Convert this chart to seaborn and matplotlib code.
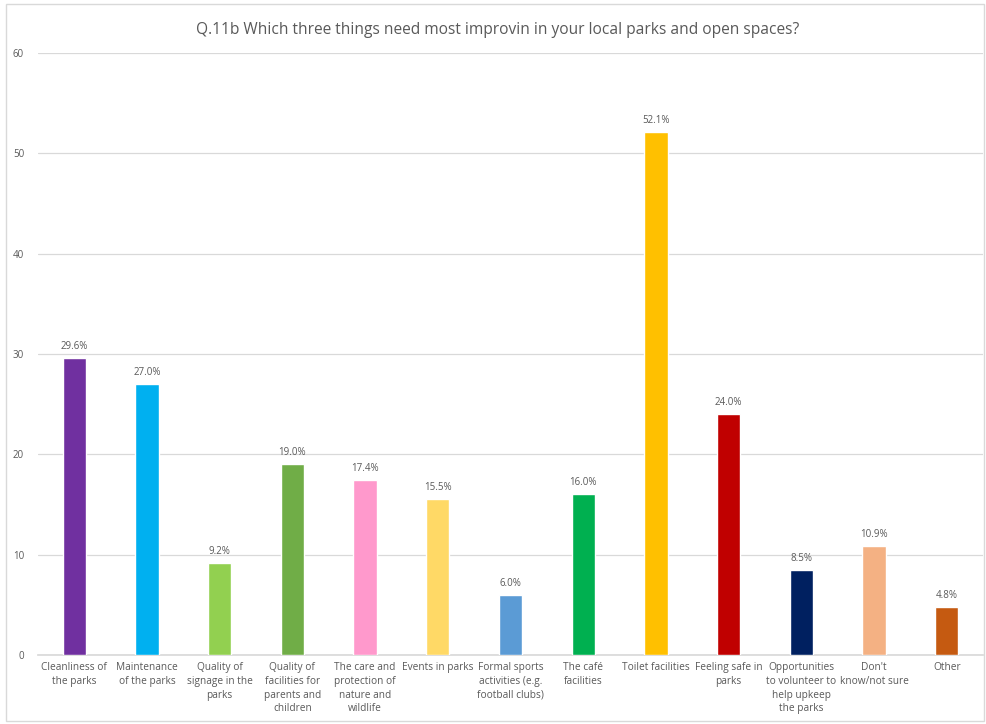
import pandas as pd
import matplotlib.pyplot as plt
import seaborn as sns
from matplotlib.patches import Rectangle

sns.set_theme(style="white")
plt.rcParams['font.family'] = ['Open Sans', 'DejaVu Sans']

# Dados
categories = [
    "Cleanliness of\nthe parks",
    "Maintenance\nof the parks",
    "Quality of\nsignage in the\nparks",
    "Quality of\nfacilities for\nparents and\nchildren",
    "The care and\nprotection of\nnature and\nwildlife",
    "Events in parks",
    "Formal sports\nactivities (e.g.\nfootball clubs)",
    "The café\nfacilities",
    "Toilet facilities",
    "Feeling safe in\nparks",
    "Opportunities\nto volunteer to\nhelp upkeep\nthe parks",
    "Don't\nknow/not sure",
    "Other",
]
values = [29.6, 27.0, 9.2, 19.0, 17.4, 15.5, 6.0, 16.0, 52.1, 24.0, 8.5, 10.9, 4.8]
colors = ["#7030A0", "#00B0F0", "#92D050", "#70AD47", "#FF99CC", "#FFD966",
          "#5B9BD5", "#00B050", "#FFC000", "#C00000", "#002060", "#F4B183", "#C55A11"]

df = pd.DataFrame({"cat": categories, "val": values})

fig = plt.figure(figsize=(9.86, 7.24), dpi=100)
ax = fig.add_axes([0.0385, 0.0953, 0.9585, 0.8315])

sns.barplot(data=df, x="cat", y="val", hue="cat", palette=colors, saturation=1,
            legend=False, width=0.32, ax=ax, zorder=3)

txt = "#595959"
for i, v in enumerate(values):
    ax.text(i, v + 0.6, f"{v:.1f}%", ha="center", va="bottom", fontsize=7, color=txt)

ax.set_ylim(0, 60)
ax.set_xlim(-0.5, len(values) - 0.5)
ax.set_yticks(range(0, 61, 10))
ax.grid(axis="y", color="#D9D9D9", linewidth=0.9, zorder=0)
ax.set_xlabel("")
ax.set_ylabel("")
for s in ["top", "right", "left"]:
    ax.spines[s].set_visible(False)
ax.spines["bottom"].set_color("#D9D9D9")
ax.tick_params(axis="y", labelsize=7, colors=txt, length=0, pad=10)
ax.tick_params(axis="x", labelsize=7.3, colors=txt, length=0, pad=5)
for lab in ax.get_xticklabels():
    lab.set_linespacing(1.35)

fig.text(0.505, 0.958, "Q.11b Which three things need most improvin in your local parks and open spaces?",
         ha="center", va="center", fontsize=11.2, color=txt)

fig.patches.append(Rectangle((0.006, 0.004), 0.992, 0.99, transform=fig.transFigure,
                             fill=False, edgecolor="#D9D9D9", linewidth=1))

plt.savefig("out.png", dpi=100)
